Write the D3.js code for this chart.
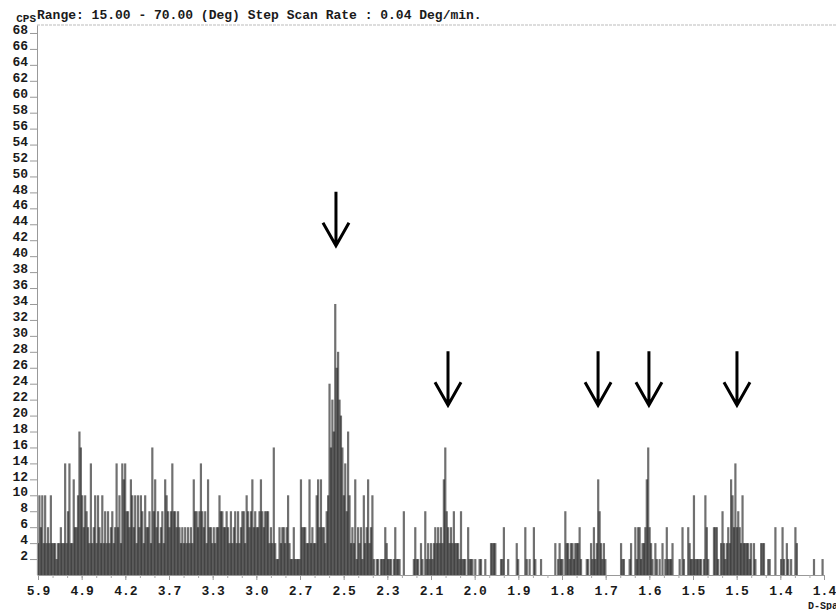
<!DOCTYPE html>
<html>
<head>
<meta charset="utf-8">
<script src="https://cdn.jsdelivr.net/npm/d3@7"></script>
<style>
  body { margin: 0; background: #fff; }
  svg { display: block; }
  text { font-family: "Liberation Mono", "Courier New", monospace; font-weight: bold; fill: #1a1a1a; }
</style>
</head>
<body>
<div id="chart"></div>
<script>
// counts (CPS), one value per 0.1 deg 2-theta, starting at 15.0
var counts15to29 = [
    4,10,6,10,4,10,4,  6,4,10,4,4,4,2,  4,4,6,4,4,14,4,  8,14,4,4,12,6,6,
    10,18,16,10,6,10,8,  6,4,14,4,6,10,4,  10,6,4,10,4,8,4,  8,4,6,8,4,6,14,
    6,10,4,14,12,14,8,  8,6,12,10,6,10,4,  10,6,10,8,4,10,6,  6,8,4,16,8,12,6,
    8,4,6,8,4,12,10,  8,6,8,14,8,8,6,  8,6,4,6,4,6,4,  6,4,6,4,12,8,8,
    6,8,14,8,6,8,4,  12,6,6,4,6,4,6,  6,10,8,8,6,6,8,  6,4,8,4,6,8,4
];
var counts29to43 = [
    8,4,6,8,8,4,10,  8,6,8,12,6,8,6,  6,8,12,8,6,8,8,  8,4,6,4,16,4,2,
    2,6,4,6,6,4,6,  10,4,2,2,6,2,2,  2,2,12,6,6,6,4,  4,12,4,6,4,4,10,
    12,6,12,6,6,4,8,  10,24,16,22,18,34,26,  28,22,20,16,10,14,8,  18,10,4,6,4,12,2,
    6,4,6,2,10,4,6,  12,4,6,10,2,0,2,  2,0,2,2,2,6,4,  2,2,2,0,2,6,2,
    2,2,0,0,8,0,0,  0,0,0,0,2,6,2,  2,0,4,2,0,8,2,  4,2,4,2,4,6,4
];
var counts43to57 = [
    6,4,6,4,12,16,8,  6,4,6,4,8,4,4,  4,2,8,2,2,2,0,  6,2,2,2,0,2,0,
    0,2,2,0,0,2,0,  0,0,4,4,4,4,0,  0,0,2,2,6,0,0,  2,0,0,0,0,0,4,
    2,0,0,0,0,6,2,  0,2,0,0,6,2,0,  0,0,2,0,0,0,0,  0,0,0,0,0,4,0,
    2,4,2,2,0,8,4,  4,2,4,4,2,4,4,  4,6,2,0,0,0,2,  2,0,4,2,6,2,4,
    12,8,4,2,4,2,0,  0,0,0,0,0,0,0,  0,0,4,2,2,0,0,  0,2,4,0,0,6,2
];
var counts57to70 = [
    6,6,2,4,4,6,12,  16,6,4,2,0,4,2,  0,2,0,4,0,2,6,  2,2,2,4,0,0,0,
    0,2,0,6,2,0,0,  6,4,2,2,10,2,2,  2,2,2,0,2,10,6,  2,0,0,0,6,6,6,
    2,0,4,8,4,2,4,  6,4,12,10,6,14,6,  8,6,4,10,4,4,4,  4,2,4,0,4,2,0,
    0,0,4,4,4,0,0,  2,2,0,0,0,6,0,  0,0,2,6,2,0,4,  2,0,2,0,0,6,4,
    0,0,0,0,0,0,0,  0,0,0,0,2,0,0,  0,0,0,2
];
var startAngle = 15.0;
var stepAngle = 0.1;

// d-spacing labels under the 2-theta axis
var tickLabels = ["5.9", "4.9", "4.2", "3.7", "3.3", "3.0", "2.7", "2.5", "2.3", "2.1",
                  "2.0", "1.9", "1.8", "1.7", "1.6", "1.5", "1.5", "1.4", "1.4"];
var yTicks = d3.range(2, 69, 2);

// marked peaks (2-theta) and where the arrow tips sit (CPS)
var arrowAngles = [35.85, 43.69, 54.19, 57.75, 63.91];
var arrowTips = [41.3, 21.3, 21.3, 21.3, 21.3];

var title = "Range: 15.00 - 70.00 (Deg) Step Scan Rate : 0.04 Deg/min.";

var width = 836, height = 610;
var svg = d3.select("#chart").append("svg")
    .attr("width", width)
    .attr("height", height);

var x = d3.scaleLinear().domain([15, 70]).range([38, 824]);
var y = d3.scaleLinear().domain([0, 69]).range([575, 25]);

var counts = [].concat(counts15to29, counts29to43, counts43to57, counts57to70);
var data = counts.map(function (c, i) {
    return { angle: startAngle + i * stepAngle, count: c };
});

// top frame line
svg.append("line")
    .attr("x1", 37).attr("x2", width)
    .attr("y1", y(69)).attr("y2", y(69))
    .attr("stroke", "#bbb")
    .attr("stroke-dasharray", "3,1");

// bars
svg.append("g").selectAll("rect")
    .data(data.filter(function (d) { return d.count > 0; }))
    .enter().append("rect")
    .attr("x", function (d) { return x(d.angle) - 1.1; })
    .attr("width", 2.2)
    .attr("y", function (d) { return y(d.count); })
    .attr("height", function (d) { return y(0) - y(d.count); })
    .attr("fill", "#111")
    .attr("fill-opacity", 0.6);

// x axis
var tickAngles = tickLabels.map(function (t, i) { return 15 + i * 55 / (tickLabels.length - 1); });
var minorAngles = d3.range(0, 54).map(function (i) { return 15 + i * 55 / 54; });

svg.append("g")
    .attr("transform", "translate(0," + y(0) + ")")
    .call(d3.axisBottom(x).tickValues(minorAngles).tickSize(3).tickSizeOuter(0).tickFormat(""))
    .call(function (g) {
        g.select(".domain").attr("stroke", "#999");
        g.selectAll(".tick line").attr("stroke", "#aaa");
    });

svg.append("g")
    .attr("transform", "translate(0," + y(0) + ")")
    .call(d3.axisBottom(x).tickValues(tickAngles).tickSize(5).tickSizeOuter(0)
        .tickFormat(function (d, i) { return tickLabels[i]; }))
    .call(function (g) {
        g.select(".domain").remove();
        g.selectAll(".tick line").attr("stroke", "#999");
        g.selectAll(".tick text")
            .attr("y", 20)
            .attr("dy", 0)
            .style("font-size", "13px")
            .attr("fill", "#1a1a1a");
    });

// y axis
svg.append("g")
    .attr("transform", "translate(37,0)")
    .call(d3.axisLeft(y).tickValues(yTicks).tickSize(7).tickSizeOuter(0))
    .call(function (g) {
        g.select(".domain").attr("stroke", "#999");
        g.selectAll(".tick line").attr("stroke", "#999");
        g.selectAll(".tick text")
            .attr("x", -9)
            .attr("dy", "0.05em")
            .style("font-size", "13px")
            .attr("fill", "#1a1a1a");
    });

svg.append("text")
    .attr("x", 36).attr("y", 22)
    .attr("text-anchor", "end")
    .style("font-size", "11px")
    .text("CPS");

svg.append("text")
    .attr("x", 37).attr("y", 19)
    .style("font-size", "13px")
    .text(title);

svg.append("text")
    .attr("x", 808).attr("y", 609)
    .style("font-size", "10px")
    .text("D-Spacing");

// arrows over the marked peaks
svg.append("g").selectAll("path")
    .data(arrowAngles)
    .enter().append("path")
    .attr("d", function (a, i) {
        var px = x(a), tip = y(arrowTips[i]);
        return "M" + px + "," + (tip - 54) + "L" + px + "," + tip +
            "M" + (px - 13) + "," + (tip - 23) + "L" + px + "," + tip +
            "L" + (px + 13) + "," + (tip - 23);
    })
    .attr("fill", "none")
    .attr("stroke", "#000")
    .attr("stroke-width", 3);
</script>
</body>
</html>
